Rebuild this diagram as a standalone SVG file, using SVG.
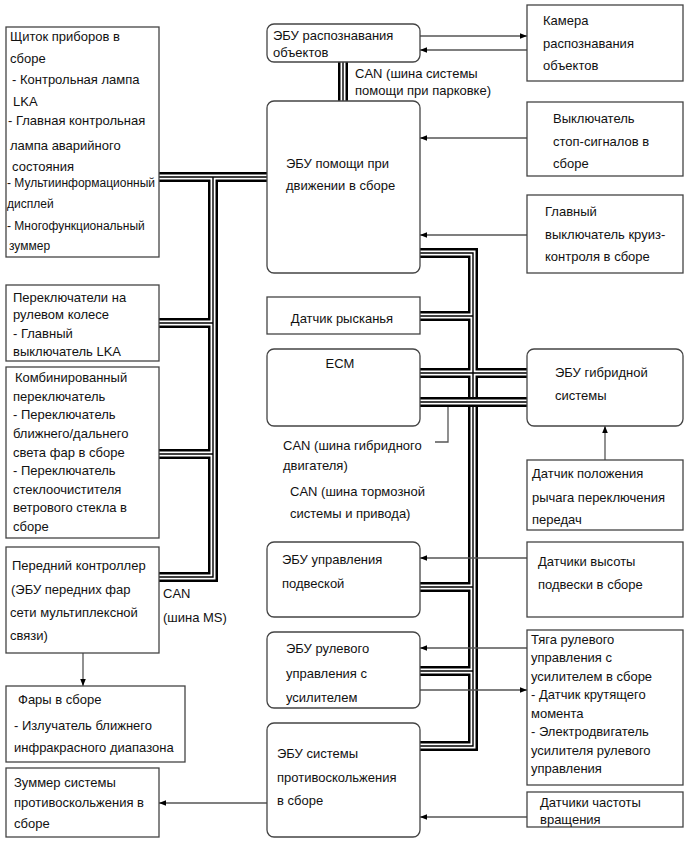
<svg xmlns="http://www.w3.org/2000/svg" xmlns:xlink="http://www.w3.org/1999/xlink" width="686" height="857" viewBox="0 0 686 857">
<style>
text{font-family:"Liberation Sans",Arial,sans-serif;font-size:13px;fill:#111}
.s{font-size:12px}
.box{fill:#fff;stroke:#444;stroke-width:1.3}
.arr{fill:none;stroke:#555;stroke-width:1.3}
.c1{fill:none;stroke:#000;stroke-width:10}
.c2{fill:none;stroke:#fff;stroke-width:5}
.c3{fill:none;stroke:#000;stroke-width:1.4}
</style>
<defs>
<marker id="ah" viewBox="0 0 10 10" refX="10" refY="5" markerWidth="9" markerHeight="7" markerUnits="userSpaceOnUse" orient="auto">
<path d="M0,1 L10,5 L0,9 z" fill="#000"/>
</marker>
<path id="busL" d="M159,177 H267 M213,177 V577 H159 M159,323 H213 M159,454 H213"/>
<path id="busR" d="M420,253 H473 V746 H420 M420,316 H473 M420,373 H527 M420,587 H473 M420,671 H473"/>
<path id="busP" d="M343,62 V101"/>
<path id="busX" d="M420,402 H527"/>
</defs>

<g id="connectors">
<use xlink:href="#busL" class="c1"/><use xlink:href="#busR" class="c1"/><use xlink:href="#busP" class="c1"/>
<use xlink:href="#busL" class="c2"/><use xlink:href="#busR" class="c2"/><use xlink:href="#busP" class="c2"/>
<use xlink:href="#busL" class="c3"/><use xlink:href="#busR" class="c3"/><use xlink:href="#busP" class="c3"/>
<use xlink:href="#busX" class="c1"/><use xlink:href="#busX" class="c2"/><use xlink:href="#busX" class="c3"/>
<path class="arr" d="M448,407 V442 H435"/>
<path class="arr" d="M420,36 H527" marker-end="url(#ah)"/>
<path class="arr" d="M527,50 H420" marker-end="url(#ah)"/>
<path class="arr" d="M527,138 H420" marker-end="url(#ah)"/>
<path class="arr" d="M527,235 H420" marker-end="url(#ah)"/>
<path class="arr" d="M605,460 V426" marker-end="url(#ah)"/>
<path class="arr" d="M527,558 H420" marker-end="url(#ah)"/>
<path class="arr" d="M527,648 H420" marker-end="url(#ah)"/>
<path class="arr" d="M420,690 H527" marker-end="url(#ah)"/>
<path class="arr" d="M527,817 H420" marker-end="url(#ah)"/>
<path class="arr" d="M267,803 H159" marker-end="url(#ah)"/>
<path class="arr" d="M83,653 V686" marker-end="url(#ah)"/>
<text x="355" y="77.5">CAN (шина системы</text>
<text x="355" y="94.5">помощи при парковке)</text>
<text x="283" y="449.5">CAN (шина гибридного</text>
<text x="283" y="469.5">двигателя)</text>
<text x="290" y="495.5">CAN (шина тормозной</text>
<text x="290" y="517.5">системы и привода)</text>
<text x="163" y="597.5">CAN</text>
<text x="163" y="622">(шина MS)</text>
</g>

<g id="n_cluster">
<rect class="box" x="6" y="27" width="153" height="230"/>
<text x="10" y="40.5">Щиток приборов в</text>
<text x="10" y="62.5">сборе</text>
<text x="12" y="83.5">- Контрольная лампа</text>
<text x="13" y="105.5">LKA</text>
<text x="8" y="124.5">- Главная контрольная</text>
<text x="10" y="149.5">лампа аварийного</text>
<text x="12" y="170.5">состояния</text>
<text class="s" x="7" y="187">- Мультиинформационный</text>
<text class="s" x="7" y="208">дисплей</text>
<text class="s" x="7" y="230">- Многофункциональный</text>
<text class="s" x="9" y="250">зуммер</text>
</g>

<g id="n_steer_sw">
<rect class="box" x="6" y="285" width="153" height="76"/>
<text x="13" y="301.5">Переключатели на</text>
<text x="13" y="318.5">рулевом колесе</text>
<text x="13" y="337.5">- Главный</text>
<text x="13" y="355.5">выключатель LKA</text>
</g>

<g id="n_combo">
<rect class="box" x="6" y="367" width="153" height="171"/>
<text x="15" y="381.5">Комбинированный</text>
<text x="13" y="400.5">переключатель</text>
<text x="13" y="418.5">- Переключатель</text>
<text x="13" y="437.5">ближнего/дальнего</text>
<text x="13" y="456.5">света фар в сборе</text>
<text x="13" y="474.5">- Переключатель</text>
<text x="13" y="493.5">стеклоочистителя</text>
<text x="13" y="511.5">ветрового стекла в</text>
<text x="13" y="530.5">сборе</text>
</g>

<g id="n_front">
<rect class="box" x="6" y="547" width="153" height="106"/>
<text x="12" y="569.5">Передний контроллер</text>
<text x="11" y="593.5">(ЭБУ передних фар</text>
<text x="10" y="616.5">сети мультиплексной</text>
<text x="10" y="639.5">связи)</text>
</g>

<g id="n_lamps">
<rect class="box" x="6" y="686" width="179" height="76"/>
<text x="18" y="703.5">Фары в сборе</text>
<text x="14" y="729.5">- Излучатель ближнего</text>
<text x="14" y="751.5">инфракрасного диапазона</text>
</g>

<g id="n_buzzer">
<rect class="box" x="6" y="768" width="153" height="69"/>
<text x="14" y="786.5">Зуммер системы</text>
<text x="14" y="806.5">противоскольжения в</text>
<text x="14" y="827.5">сборе</text>
</g>

<g id="n_obj_ecu">
<rect class="box" x="267" y="24" width="153" height="38" rx="7"/>
<text x="273" y="39.5">ЭБУ распознавания</text>
<text x="273" y="56.5">объектов</text>
</g>

<g id="n_drive_ecu">
<rect class="box" x="267" y="101" width="153" height="172" rx="7"/>
<text x="286" y="167.5">ЭБУ помощи при</text>
<text x="286" y="189.5">движении в сборе</text>
</g>

<g id="n_yaw">
<rect class="box" x="267" y="297" width="153" height="37"/>
<text x="342" y="322.5" text-anchor="middle">Датчик рысканья</text>
</g>

<g id="n_ecm">
<rect class="box" x="267" y="349" width="153" height="77" rx="7"/>
<text x="340" y="367.5" text-anchor="middle">ECM</text>
</g>

<g id="n_susp_ecu">
<rect class="box" x="267" y="542" width="153" height="75" rx="7"/>
<text x="282" y="564">ЭБУ управления</text>
<text x="282" y="588">подвеской</text>
</g>

<g id="n_eps_ecu">
<rect class="box" x="267" y="632" width="153" height="76" rx="7"/>
<text x="286" y="652.5">ЭБУ рулевого</text>
<text x="286" y="677.5">управления с</text>
<text x="286" y="701.5">усилителем</text>
</g>

<g id="n_skid_ecu">
<rect class="box" x="267" y="723" width="153" height="114" rx="7"/>
<text x="277" y="757.5">ЭБУ системы</text>
<text x="277" y="781.5">противоскольжения</text>
<text x="277" y="804.5">в сборе</text>
</g>

<g id="n_camera">
<rect class="box" x="527" y="5" width="156" height="76"/>
<text x="543" y="24.5">Камера</text>
<text x="543" y="48">распознавания</text>
<text x="543" y="70">объектов</text>
</g>

<g id="n_stop">
<rect class="box" x="527" y="102" width="156" height="74"/>
<text x="553" y="122.5">Выключатель</text>
<text x="553" y="145.5">стоп-сигналов в</text>
<text x="553" y="167.5">сборе</text>
</g>

<g id="n_cruise">
<rect class="box" x="527" y="195" width="156" height="78"/>
<text x="545" y="215.5">Главный</text>
<text x="545" y="238.5">выключатель круиз-</text>
<text x="545" y="260.5">контроля в сборе</text>
</g>

<g id="n_hybrid">
<rect class="box" x="527" y="349" width="156" height="77" rx="7"/>
<text x="555" y="376.5">ЭБУ гибридной</text>
<text x="555" y="399.5">системы</text>
</g>

<g id="n_shift">
<rect class="box" x="527" y="460" width="156" height="70"/>
<text x="532" y="477.5">Датчик положения</text>
<text x="532" y="501.5">рычага переключения</text>
<text x="532" y="523.5">передач</text>
</g>

<g id="n_height">
<rect class="box" x="527" y="542" width="156" height="75"/>
<text x="538" y="566">Датчики высоты</text>
<text x="538" y="589">подвески в сборе</text>
</g>

<g id="n_rack">
<rect class="box" x="527" y="630" width="156" height="155"/>
<text x="531" y="643.5">Тяга рулевого</text>
<text x="531" y="662">управления с</text>
<text x="531" y="680.5">усилителем в сборе</text>
<text x="531" y="699">- Датчик крутящего</text>
<text x="531" y="717.5">момента</text>
<text x="531" y="736">- Электродвигатель</text>
<text x="531" y="754.5">усилителя рулевого</text>
<text x="531" y="773">управления</text>
</g>

<g id="n_speed">
<rect class="box" x="527" y="792" width="156" height="35"/>
<text x="540" y="807">Датчики частоты</text>
<text x="540" y="823.5">вращения</text>
</g>
</svg>
